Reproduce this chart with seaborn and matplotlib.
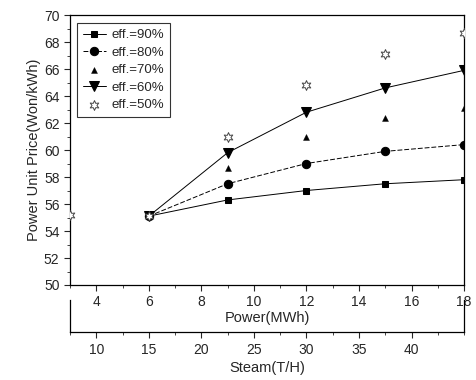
import pandas as pd
import matplotlib
matplotlib.use('Agg')
import matplotlib.pyplot as plt
from matplotlib.ticker import MultipleLocator
import seaborn as sns

# valori
power = [6, 9, 12, 15, 18]
eff90 = [55.1, 56.3, 57.0, 57.5, 57.8]
eff80 = [55.1, 57.5, 59.0, 59.9, 60.4]
eff70 = [55.1, 58.7, 61.0, 62.4, 63.1]
eff60 = [55.1, 59.8, 62.8, 64.6, 65.9]
power50 = [3, 6, 9, 12, 15, 18]
eff50 = [55.2, 55.1, 61.0, 64.8, 67.1, 68.7]

steam_ticks = [10, 15, 20, 25, 30, 35, 40]
steam_per_mw = 2.5

sns.set_style("ticks")
plt.rcParams['font.family'] = ['Liberation Sans', 'DejaVu Sans']

fig = plt.figure(figsize=(4.76, 3.8), dpi=100)
ax = fig.add_axes([0.147, 0.25, 0.828, 0.7105])

df90 = pd.DataFrame({"power": power, "price": eff90})
df80 = pd.DataFrame({"power": power, "price": eff80})
df70 = pd.DataFrame({"power": power, "price": eff70})
df60 = pd.DataFrame({"power": power, "price": eff60})
df50 = pd.DataFrame({"power": power50, "price": eff50})

sns.lineplot(data=df90, x="power", y="price", ax=ax, color="black", lw=0.7,
             marker="s", markersize=5, markeredgecolor="black", label="eff.=90%")
sns.lineplot(data=df80, x="power", y="price", ax=ax, color="black", lw=0.7,
             linestyle=(0, (5, 2)), marker="o", markersize=6, markeredgecolor="black",
             label="eff.=80%")
sns.scatterplot(data=df70, x="power", y="price", ax=ax, color="black", marker="^",
                s=18, edgecolor="black", label="eff.=70%")
sns.lineplot(data=df60, x="power", y="price", ax=ax, color="black", lw=0.7,
             marker="v", markersize=6.5, markeredgecolor="black", label="eff.=60%")
sns.scatterplot(data=df50, x="power", y="price", ax=ax, color="white", marker=(6, 1, 0),
                s=50, edgecolor="#444444", linewidth=0.7, label="eff.=50%", zorder=5)

ax.set_xlim(3, 18)
ax.set_ylim(50, 70)
ax.xaxis.set_major_locator(MultipleLocator(2))
ax.xaxis.set_minor_locator(MultipleLocator(1))
ax.yaxis.set_major_locator(MultipleLocator(2))
ax.yaxis.set_minor_locator(MultipleLocator(1))
ax.set_xticks([4, 6, 8, 10, 12, 14, 16, 18])
ax.tick_params(labelsize=10, length=4, width=0.8)
ax.tick_params(which="minor", length=2, width=0.6)
ax.set_xlabel("Power(MWh)", fontsize=10.5, labelpad=1)
ax.set_ylabel("Power Unit Price(Won/kWh)", fontsize=10.5, labelpad=2)
for sp in ax.spines.values():
    sp.set_linewidth(0.9)
    sp.set_color("black")

leg = ax.legend(loc="upper left", fontsize=9.5, frameon=True, fancybox=False,
                edgecolor="black", handlelength=1.8, borderpad=0.45,
                labelspacing=0.4, handletextpad=0.4, bbox_to_anchor=(0.0, 0.995))
leg.get_frame().set_linewidth(0.8)

# asse secondario: vapore
ax2 = fig.add_axes([0.147, 0.126, 0.828, 0.085])
ax2.set_xlim(3 * steam_per_mw, 18 * steam_per_mw)
ax2.set_xticks(steam_ticks)
ax2.xaxis.set_minor_locator(MultipleLocator(2.5))
ax2.set_yticks([])
ax2.spines["top"].set_visible(False)
for sp in ["left", "right", "bottom"]:
    ax2.spines[sp].set_linewidth(0.9)
    ax2.spines[sp].set_color("black")
ax2.patch.set_alpha(0)
ax2.tick_params(labelsize=10, length=4, width=0.8)
ax2.tick_params(which="minor", length=2, width=0.6)
ax2.set_xlabel("Steam(T/H)", fontsize=10.5, labelpad=3)

fig.savefig("out.png", dpi=100)
